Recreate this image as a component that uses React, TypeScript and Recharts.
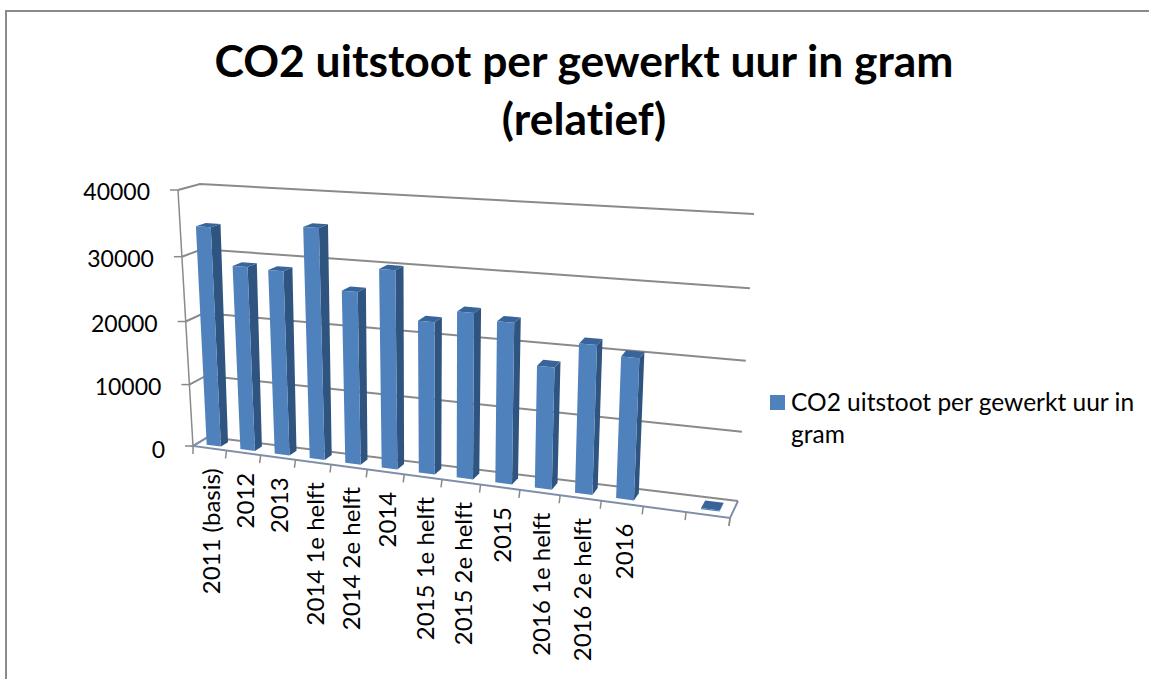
import { Bar, BarChart, CartesianGrid, Legend, XAxis, YAxis } from "recharts";

const categories = [
  "2011 (basis)",
  "2012",
  "2013",
  "2014 1e helft",
  "2014 2e helft",
  "2014",
  "2015 1e helft",
  "2015 2e helft",
  "2015",
  "2016 1e helft",
  "2016 2e helft",
  "2016",
  "",
  "",
];
const co2Values = [
  34400, 28800, 28600, 35400, 26400, 30050, 22950, 24800, 23900, 18050, 21800, 20500, null, 150,
];
const yTicks = [0, 10000, 20000, 30000, 40000];
const seriesName = "CO2 uitstoot per gewerkt uur in gram";

const data = categories.map((category, i) => ({ category, co2: co2Values[i] }));

const WIDTH = 1149;
const HEIGHT = 679;
// flat plot rectangle recharts works in, everything gets projected from here
const PLOT = { left: 100, top: 200, w: 560, h: 280 };
const TEXT = "Lato, Carlito, sans-serif";

type Pt = [number, number];

// unit square -> quad, corners: (0,0) (1,0) (1,1) (0,1)
function makeHomography(p0: Pt, p1: Pt, p2: Pt, p3: Pt) {
  const dx1 = p1[0] - p2[0];
  const dx2 = p3[0] - p2[0];
  const dy1 = p1[1] - p2[1];
  const dy2 = p3[1] - p2[1];
  const sx = p0[0] - p1[0] + p2[0] - p3[0];
  const sy = p0[1] - p1[1] + p2[1] - p3[1];
  const det = dx1 * dy2 - dx2 * dy1;
  const g = (sx * dy2 - dx2 * sy) / det;
  const h = (dx1 * sy - sx * dy1) / det;
  const a = p1[0] - p0[0] + g * p1[0];
  const b = p3[0] - p0[0] + h * p3[0];
  const d = p1[1] - p0[1] + g * p1[1];
  const e = p3[1] - p0[1] + h * p3[1];
  return (u: number, v: number): Pt => {
    const w = g * u + h * v + 1;
    return [(a * u + b * v + p0[0]) / w, (d * u + e * v + p0[1]) / w];
  };
}

const frontPlane = makeHomography([193, 446], [730, 518], [748, 224], [178, 190]);
const backPlane = makeHomography([208, 437], [738, 501], [754, 214], [200, 184]);

function project(u: number, v: number, z: number): Pt {
  const f = frontPlane(u, v);
  const b = backPlane(u, v);
  return [f[0] + (b[0] - f[0]) * z, f[1] + (b[1] - f[1]) * z];
}
const toU = (x: number) => (x - PLOT.left) / PLOT.w;
const toV = (y: number) => (PLOT.top + PLOT.h - y) / PLOT.h;
const poly = (pts: Pt[]) => pts.map((p) => `${p[0].toFixed(1)},${p[1].toFixed(1)}`).join(" ");

const BAR_Z0 = 0.28;
const BAR_Z1 = 0.75;

function Bar3D(props: any) {
  const { x, y, width, height } = props;
  if (height == null) return null;
  const u0 = toU(x);
  const u1 = toU(x + width);
  const v0 = toV(y + height);
  const v1 = toV(y);
  const front = [project(u0, v0, BAR_Z0), project(u1, v0, BAR_Z0), project(u1, v1, BAR_Z0), project(u0, v1, BAR_Z0)];
  const side = [project(u1, v0, BAR_Z0), project(u1, v0, BAR_Z1), project(u1, v1, BAR_Z1), project(u1, v1, BAR_Z0)];
  const top = [project(u0, v1, BAR_Z0), project(u1, v1, BAR_Z0), project(u1, v1, BAR_Z1), project(u0, v1, BAR_Z1)];
  return (
    <g>
      <polygon points={poly(side)} fill="#2F5480" />
      <polygon points={poly(top)} fill="#38649A" />
      <polygon points={poly(front)} fill="#4F81BD" />
    </g>
  );
}

function gridLine(props: any) {
  const v = toV(props.y1);
  const a = project(0, v, 0);
  const b = project(0, v, 1);
  const c = project(1, v, 1);
  return (
    <polyline
      key={props.key ?? props.index}
      points={poly([a, b, c])}
      fill="none"
      stroke="#8A8A8A"
      strokeWidth={2}
    />
  );
}

function YTick(props: any) {
  const v = toV(props.y);
  const p = project(0, v, 0);
  return (
    <g>
      <line x1={p[0] - 8} y1={p[1]} x2={p[0]} y2={p[1]} stroke="#8A8A8A" strokeWidth={1.5} />
      <text
        x={p[0] - 28}
        y={p[1] + (v === 0 ? 3 : 1)}
        textAnchor="end"
        dominantBaseline="central"
        fontFamily={TEXT}
        fontSize={23}
        fill="#000"
      >
        {props.payload.value}
      </text>
    </g>
  );
}

function XTick(props: any) {
  const u = toU(props.x);
  const band = 1 / categories.length;
  const edge = project(u + band / 2, 0, 0);
  const base = project(u, 0, 0);
  const tx = base[0] + 1;
  const ty = base[1] + 20;
  return (
    <g>
      <line x1={edge[0]} y1={edge[1]} x2={edge[0] - 1} y2={edge[1] + 8} stroke="#8A8A8A" strokeWidth={1.5} />
      <text
        x={tx}
        y={ty}
        transform={`rotate(-90 ${tx} ${ty})`}
        textAnchor="end"
        dominantBaseline="central"
        fontFamily={TEXT}
        fontSize={24}
        fill="#000"
        style={{ fontVariantLigatures: "none" }}
      >
        {props.payload.value}
      </text>
    </g>
  );
}

// axis lines and floor outline of the 3d box
function Frame() {
  const left = [project(0, 0, 0), project(0, 1, 0)];
  const floor = [project(0, 0, 1), project(0, 0, 0), project(1, 0, 0), project(1, 0, 1)];
  const start = project(0, 0, 0);
  const end = project(1, 0, 0);
  return (
    <g>
      <polyline points={poly(left)} fill="none" stroke="#8A8A8A" strokeWidth={1.5} />
      <polyline points={poly(floor)} fill="none" stroke="#7F8FA9" strokeWidth={2} />
      <line x1={start[0]} y1={start[1]} x2={start[0]} y2={start[1] + 8} stroke="#8A8A8A" strokeWidth={1.5} />
      <line x1={end[0]} y1={end[1]} x2={end[0] - 1} y2={end[1] + 8} stroke="#8A8A8A" strokeWidth={1.5} />
    </g>
  );
}

function LegendBox() {
  return (
    <div
      style={{
        position: "relative",
        fontFamily: TEXT,
        fontSize: 24.5,
        lineHeight: "32px",
        color: "#000",
        fontVariantLigatures: "none",
      }}
    >
      <span style={{ position: "absolute", left: 0, top: 9, width: 15, height: 15, background: "#4F81BD" }} />
      <div style={{ marginLeft: 21, width: 350 }}>{seriesName}</div>
    </div>
  );
}

const titleStyle = { fontVariantLigatures: "none" };

export default function App() {
  return (
    <div style={{ position: "absolute", left: 0, top: 0, width: WIDTH, height: HEIGHT, background: "#fff", overflow: "hidden" }}>
      <BarChart
        width={WIDTH}
        height={HEIGHT}
        data={data}
        barCategoryGap="28.5%"
        margin={{
          left: PLOT.left - 40,
          top: PLOT.top,
          right: WIDTH - PLOT.left - PLOT.w,
          bottom: HEIGHT - PLOT.top - PLOT.h - 40,
        }}
      >
        <polyline points={`6,${HEIGHT} 6,11 ${WIDTH},11`} fill="none" stroke="#8A8A8A" strokeWidth={2} />
        <text x={584} y={77} textAnchor="middle" fontFamily={TEXT} fontWeight={700} fontSize={44.4} fill="#000" style={titleStyle}>
          CO2 uitstoot per gewerkt uur in gram
        </text>
        <text x={584} y={135} textAnchor="middle" fontFamily={TEXT} fontWeight={700} fontSize={44.4} fill="#000" style={titleStyle}>
          (relatief)
        </text>
        <CartesianGrid horizontal={gridLine} vertical={false} syncWithTicks />
        <Frame />
        <XAxis dataKey="category" interval={0} height={40} axisLine={false} tickLine={false} tick={<XTick />} />
        <YAxis
          width={40}
          domain={[0, 40000]}
          ticks={yTicks}
          axisLine={false}
          tickLine={false}
          tick={<YTick />}
        />
        <Bar dataKey="co2" name={seriesName} shape={<Bar3D />} isAnimationActive={false} />
        <Legend
          layout="horizontal"
          align="center"
          verticalAlign="middle"
          wrapperStyle={{ left: 770, top: 386, width: 376, bottom: "auto" }}
          content={<LegendBox />}
        />
      </BarChart>
    </div>
  );
}
